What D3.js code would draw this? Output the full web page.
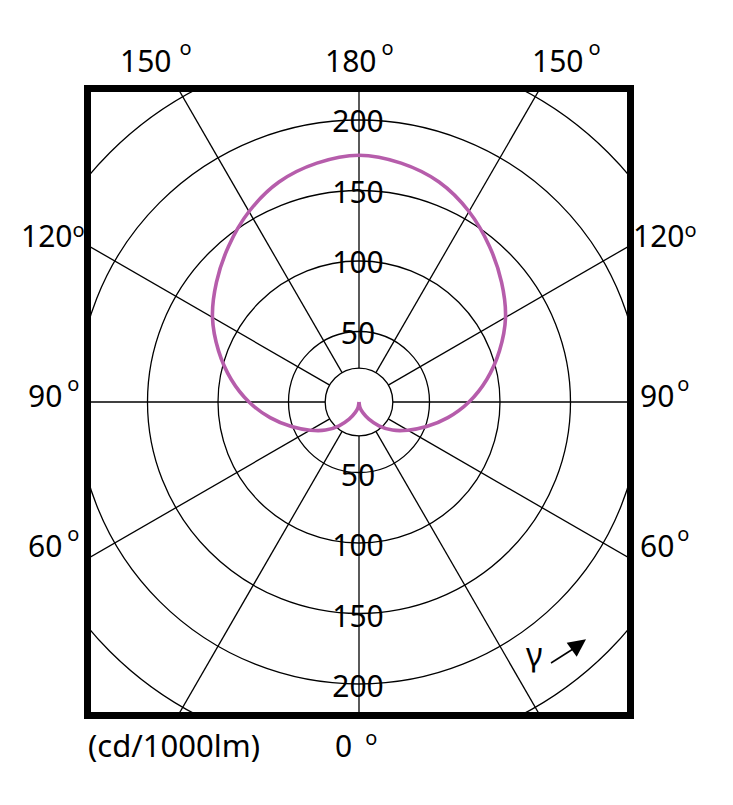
<!DOCTYPE html>
<html lang="en">
<head>
  <meta charset="UTF-8">
  <title>Luminous intensity distribution</title>
  <script src="https://d3js.org/d3.v7.min.js"></script>
  <style>
    body { margin: 0; background: #fff; }
    svg { display: block; }
    text { font-family: "Noto Sans", "Open Sans", sans-serif; fill: #000; }
  </style>
</head>
<body>
  <svg width="733" height="805"></svg>

  <script>
    // gamma angle (deg, 0 = straight down) and intensity (cd/1000lm), one half; the other half mirrors it
    const gammas    = [0, 10, 20, 30, 40, 50, 60, 70, 80, 90, 100, 110, 120, 130, 140, 150, 160, 170, 180];
    const intensity = [0, 4, 8, 14, 22, 31, 40, 51, 64, 78, 92, 106, 120, 132, 144, 156, 166, 172, 175];

    const rings = [50, 100, 150, 200, 250];
    const ringLabels = [50, 100, 150, 200];
    const spokes = [0, 30, 60, 90, 120, 150, 180];
    const angleLabels = ["150", "180", "150", "120", "90", "60", "120", "90", "60", "0"];
    const unitLabel = "(cd/1000lm)";

    const svg = d3.select("svg");

    const frame = { x0: 87.5, y0: 88.5, x1: 630.5, y1: 715.5 };
    const cx = (frame.x0 + frame.x1) / 2, cy = (frame.y0 + frame.y1) / 2;
    const r = d3.scaleLinear().domain([0, 200]).range([0, 282]);
    const hub = 24;

    svg.append("clipPath").attr("id", "clip")
      .append("rect")
        .attr("x", frame.x0 - cx).attr("y", frame.y0 - cy)
        .attr("width", frame.x1 - frame.x0).attr("height", frame.y1 - frame.y0);

    const g = svg.append("g")
        .attr("transform", `translate(${cx},${cy})`);
    const grid = g.append("g")
        .attr("clip-path", "url(#clip)");

    grid.selectAll("circle.ring")
      .data([hub].concat(rings))
      .join("circle")
        .attr("class", "ring")
        .attr("r", d => r(d))
        .attr("fill", "none")
        .attr("stroke", "#000")
        .attr("stroke-width", 1.3);

    // spokes on both sides, gamma from the downward vertical
    const spokeAngles = [];
    spokes.forEach(s => {
      spokeAngles.push(s);
      if (s !== 0 && s !== 180) spokeAngles.push(-s);
    });
    grid.selectAll("line.spoke")
      .data(spokeAngles)
      .join("line")
        .attr("class", "spoke")
        .attr("x1", d => r(hub) * Math.sin(d * Math.PI / 180))
        .attr("y1", d => r(hub) * Math.cos(d * Math.PI / 180))
        .attr("x2", d => 600 * Math.sin(d * Math.PI / 180))
        .attr("y2", d => 600 * Math.cos(d * Math.PI / 180))
        .attr("stroke", "#000")
        .attr("stroke-width", 1.3);

    // intensity curve: right half going up, then left half coming down
    const pts = [];
    gammas.forEach((gm, i) => pts.push({ a: Math.PI - gm * Math.PI / 180, v: intensity[i] }));
    for (let i = gammas.length - 2; i >= 0; i--) {
      pts.push({ a: gammas[i] * Math.PI / 180 - Math.PI, v: intensity[i] });
    }
    const radial = d3.lineRadial()
      .angle(d => d.a)
      .radius(d => r(d.v))
      .curve(d3.curveCatmullRom.alpha(0.5));

    g.append("path")
      .datum(pts)
      .attr("d", radial)
      .attr("fill", "none")
      .attr("stroke", "#b65dab")
      .attr("stroke-width", 3.6)
      .attr("stroke-linejoin", "round");

    // ring value labels, above and below the centre
    const ringText = g.append("g")
        .attr("font-size", 30)
        .attr("text-anchor", "middle");
    ringText.selectAll("text.up")
      .data(ringLabels)
      .join("text")
        .attr("x", -1)
        .attr("y", d => -r(d) + 12)
        .text(d => d);
    ringText.selectAll("text.down")
      .data(ringLabels)
      .join("text")
        .attr("x", -1)
        .attr("y", d => r(d) + 13)
        .text(d => d);

    // frame
    svg.append("rect")
      .attr("x", frame.x0).attr("y", frame.y0)
      .attr("width", frame.x1 - frame.x0).attr("height", frame.y1 - frame.y0)
      .attr("fill", "none")
      .attr("stroke", "#000")
      .attr("stroke-width", 7);

    // angle labels round the frame: [x of digits, baseline, gap before degree mark, raise of degree mark]
    const labelPos = [
      [120, 72, 8, 17], [325, 72, 5, 17], [532, 72, 5, 17],
      [21, 247, 0, 10], [28, 407, 5, 16], [28, 557, 5, 16],
      [633, 247, 0, 10], [640, 407, 3, 16], [640, 557, 3, 16],
      [335, 757, 13, 12]
    ];
    const lab = svg.append("g").attr("font-size", 30);
    angleLabels.forEach((t, i) => {
      const [x, y, gap, up] = labelPos[i];
      const txt = lab.append("text").attr("x", x).attr("y", y);
      txt.append("tspan").text(t);
      txt.append("tspan").attr("dx", gap).attr("dy", -up).attr("font-size", 20).text("o");
    });

    svg.append("text")
      .attr("x", 88).attr("y", 757)
      .attr("font-size", 31)
      .text(unitLabel);

    // gamma direction mark
    svg.append("text")
      .attr("x", 526).attr("y", 666)
      .attr("font-size", 32)
      .text("γ");
    svg.append("line")
      .attr("x1", 551).attr("y1", 663).attr("x2", 573).attr("y2", 649)
      .attr("stroke", "#000").attr("stroke-width", 1.5);
    svg.append("path")
      .attr("d", "M586,639.3L566.7,642.7L576.7,656.7Z")
      .attr("fill", "#000");
  </script>
</body>
</html>
